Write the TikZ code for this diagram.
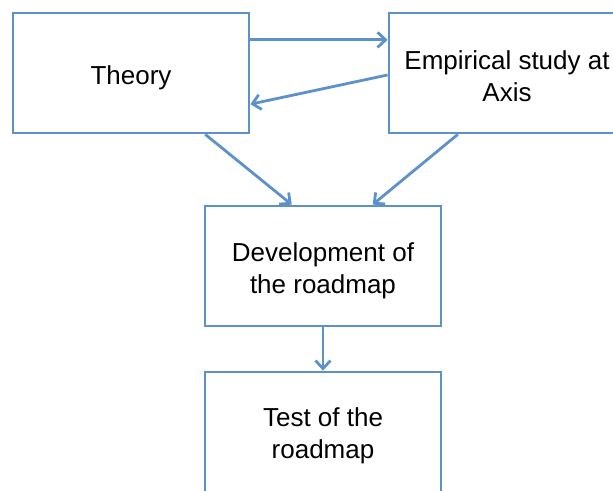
\documentclass[tikz,border=0pt]{standalone}
\usepackage{fontspec}
\setmainfont{Liberation Sans}
\usetikzlibrary{arrows.meta,calc}
\definecolor{boxblue}{RGB}{93,145,204}
\tikzset{
  box/.style={draw=boxblue, line width=2.8pt, minimum width=236pt, minimum height=120pt, inner sep=0pt},
  lbl/.style={align=center, inner sep=0pt, font=\fontsize{26}{32}\selectfont},
  conn/.style={draw=boxblue, line width=2.8pt, -{Straight Barb[length=8pt,width=15pt,line width=2.8pt]}}
}
\begin{document}
\begin{tikzpicture}[x=1pt,y=-1pt]
\useasboundingbox (0,0) rectangle (613,490);
\clip (0,0) rectangle (613,490);
\node[box] (theory) at (131,73) {};
\node[box] (emp) at (507,73) {};
\node[box] (dev) at (323,266) {};
\node[box] (test) at (323,432) {};
\node[lbl] (theoryt) at ($(theory.center)+(0,5)$) {Theory};
\node[lbl] (empt) at ($(emp.center)+(0,3)$) {Empirical study at\\Axis};
\node[lbl] (devt) at ($(dev.center)+(0,5)$) {Development of\\the roadmap};
\node[lbl] (testt) at ($(test.center)+(0,4)$) {Test of the\\roadmap};
\draw[conn] ($(theory.north east)!0.23!(theory.south east)$) -- ($(emp.north west)!0.23!(emp.south west)$);
\draw[conn] ($(emp.north west)!0.516!(emp.south west)$) -- ($(theory.north east)!0.754!(theory.south east)$);
\draw[conn] ($(theory.south west)!0.811!(theory.south east)$) -- ($(dev.north west)!0.369!(dev.north east)$);
\draw[conn] ($(emp.south west)!0.294!(emp.south east)$) -- ($(dev.north west)!0.708!(dev.north east)$);
\draw[conn] (dev.south) -- (test.north);
\end{tikzpicture}
\end{document}
